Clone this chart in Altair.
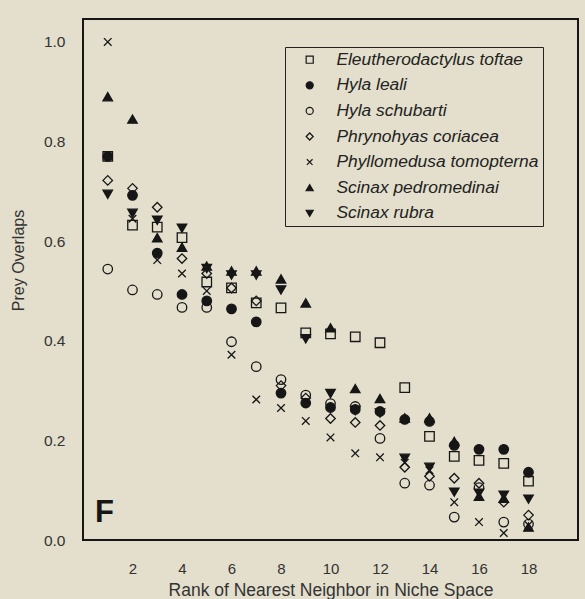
import altair as alt
import pandas as pd

# Rank of nearest neighbour (1..18) for each species
ranks = list(range(1, 19))

species = [
    "Eleutherodactylus toftae",
    "Hyla leali",
    "Hyla schubarti",
    "Phrynohyas coriacea",
    "Phyllomedusa tomopterna",
    "Scinax pedromedinai",
    "Scinax rubra",
]

e_toftae = [0.770, 0.632, 0.628, 0.607, 0.518, 0.506, 0.476, 0.466, 0.416,
            0.414, 0.408, 0.396, 0.306, 0.208, 0.168, 0.160, 0.154, 0.118]
h_leali = [0.770, 0.692, 0.576, 0.493, 0.480, 0.464, 0.438, 0.295, 0.275,
           0.266, 0.262, 0.258, 0.242, 0.238, 0.190, 0.182, 0.182, 0.136]
h_schubarti = [0.544, 0.502, 0.493, 0.467, 0.467, 0.398, 0.348, 0.322, 0.291,
               0.274, 0.268, 0.204, 0.114, 0.110, 0.046, 0.105, 0.036, 0.032]
p_coriacea = [0.722, 0.706, 0.668, 0.565, 0.535, 0.506, 0.480, 0.310, 0.285,
              0.244, 0.236, 0.230, 0.146, 0.128, 0.124, 0.114, 0.076, 0.050]
p_tomopterna = [1.000, 0.645, 0.562, 0.535, 0.500, 0.372, 0.282, 0.265, 0.239,
                0.206, 0.174, 0.166, 0.155, 0.140, 0.076, 0.036, 0.014, 0.030]
s_pedromedinai = [0.890, 0.845, 0.607, 0.588, 0.550, 0.540, 0.540, 0.524, 0.476,
                  0.426, 0.304, 0.284, 0.245, 0.245, 0.198, 0.088, 0.084, 0.026]
s_rubra = [0.694, 0.656, 0.642, 0.626, 0.545, 0.532, 0.532, 0.502, 0.404,
           0.294, 0.260, 0.255, 0.164, 0.146, 0.096, 0.094, 0.090, 0.082]

series = [e_toftae, h_leali, h_schubarti, p_coriacea,
          p_tomopterna, s_pedromedinai, s_rubra]

x_ticks = [2, 4, 6, 8, 10, 12, 14, 16, 18]
y_ticks = [0.0, 0.2, 0.4, 0.6, 0.8, 1.0]

rows = []
for name, vals in zip(species, series):
    for r, v in zip(ranks, vals):
        rows.append({"species": name, "rank": r, "overlap": v})
df = pd.DataFrame(rows)

INK = "#161616"
BG = "#e3dfcc"
FONT = "Liberation Sans"

x_cross = "M-0.8,-0.8L0.8,0.8M0.8,-0.8L-0.8,0.8"
shapes = ["square", "circle", "circle", "diamond", x_cross,
          "triangle-up", "triangle-down"]
fills = ["transparent", INK, "transparent", "transparent", "transparent",
         INK, INK]
strokes = [INK] * len(species)

x_scale = alt.Scale(domain=[0, 20], nice=False, zero=False)
y_scale = alt.Scale(domain=[0, 1.046], nice=False)

no_legend_title = alt.Legend(title=None)

points = alt.Chart(df).mark_point(
    filled=False, size=90, strokeWidth=1.3, opacity=1
).encode(
    x=alt.X("rank:Q", scale=x_scale,
            axis=alt.Axis(values=x_ticks, ticks=False, tickSize=0, grid=False,
                          domain=False, labelPadding=21, labelFontSize=15,
                          labelFont=FONT, labelColor="#333",
                          title="Rank of Nearest Neighbor in Niche Space",
                          titleFont=FONT, titleFontSize=17.5,
                          titleFontWeight="normal", titleColor="#333",
                          titleY=55, titleBaseline="alphabetic")),
    y=alt.Y("overlap:Q", scale=y_scale,
            axis=alt.Axis(values=y_ticks, format=".1f", ticks=False,
                          tickSize=0, grid=False, domain=False,
                          labelPadding=18, labelFontSize=15.5, labelFont=FONT,
                          labelColor="#333", title="Prey Overlaps",
                          titleFont=FONT, titleFontSize=16,
                          titleFontWeight="normal", titleColor="#333",
                          titleX=-65, titleY=241, titleBaseline="middle",
                          titleAlign="center", titleAngle=270)),
    shape=alt.Shape("species:N", scale=alt.Scale(domain=species, range=shapes),
                    legend=no_legend_title),
    fill=alt.Fill("species:N", scale=alt.Scale(domain=species, range=fills),
                  legend=no_legend_title),
    stroke=alt.Stroke("species:N", scale=alt.Scale(domain=species, range=strokes),
                      legend=no_legend_title),
)

panel = pd.DataFrame({"rank": [0.87], "overlap": [0.036], "tag": ["F"]})
tag = alt.Chart(panel).mark_text(
    font=FONT, fontSize=31, fontWeight="bold", color=INK,
    align="center", baseline="alphabetic"
).encode(x=alt.X("rank:Q", scale=x_scale),
         y=alt.Y("overlap:Q", scale=y_scale),
         text="tag:N")

chart = alt.layer(points, tag).properties(
    width=495, height=521,
    autosize=alt.AutoSizeParams(type="none"),
    padding={"left": 83, "top": 19, "right": 7, "bottom": 59},
).configure(
    background=BG,
).configure_view(
    stroke=INK, strokeWidth=2, fill=BG,
).configure_legend(
    orient="none", legendX=202, legendY=28,
    strokeColor="#222", strokeWidth=1, fillColor=BG,
    padding=4, symbolOffset=12, labelOffset=18,
    labelFont=FONT, labelFontStyle="italic", labelFontSize=17.4,
    labelColor="#222", symbolSize=50, symbolStrokeWidth=1.2,
    rowPadding=6.6, labelLimit=400,
)

chart.save("out.html", embed_options={"renderer": "svg", "actions": False})
